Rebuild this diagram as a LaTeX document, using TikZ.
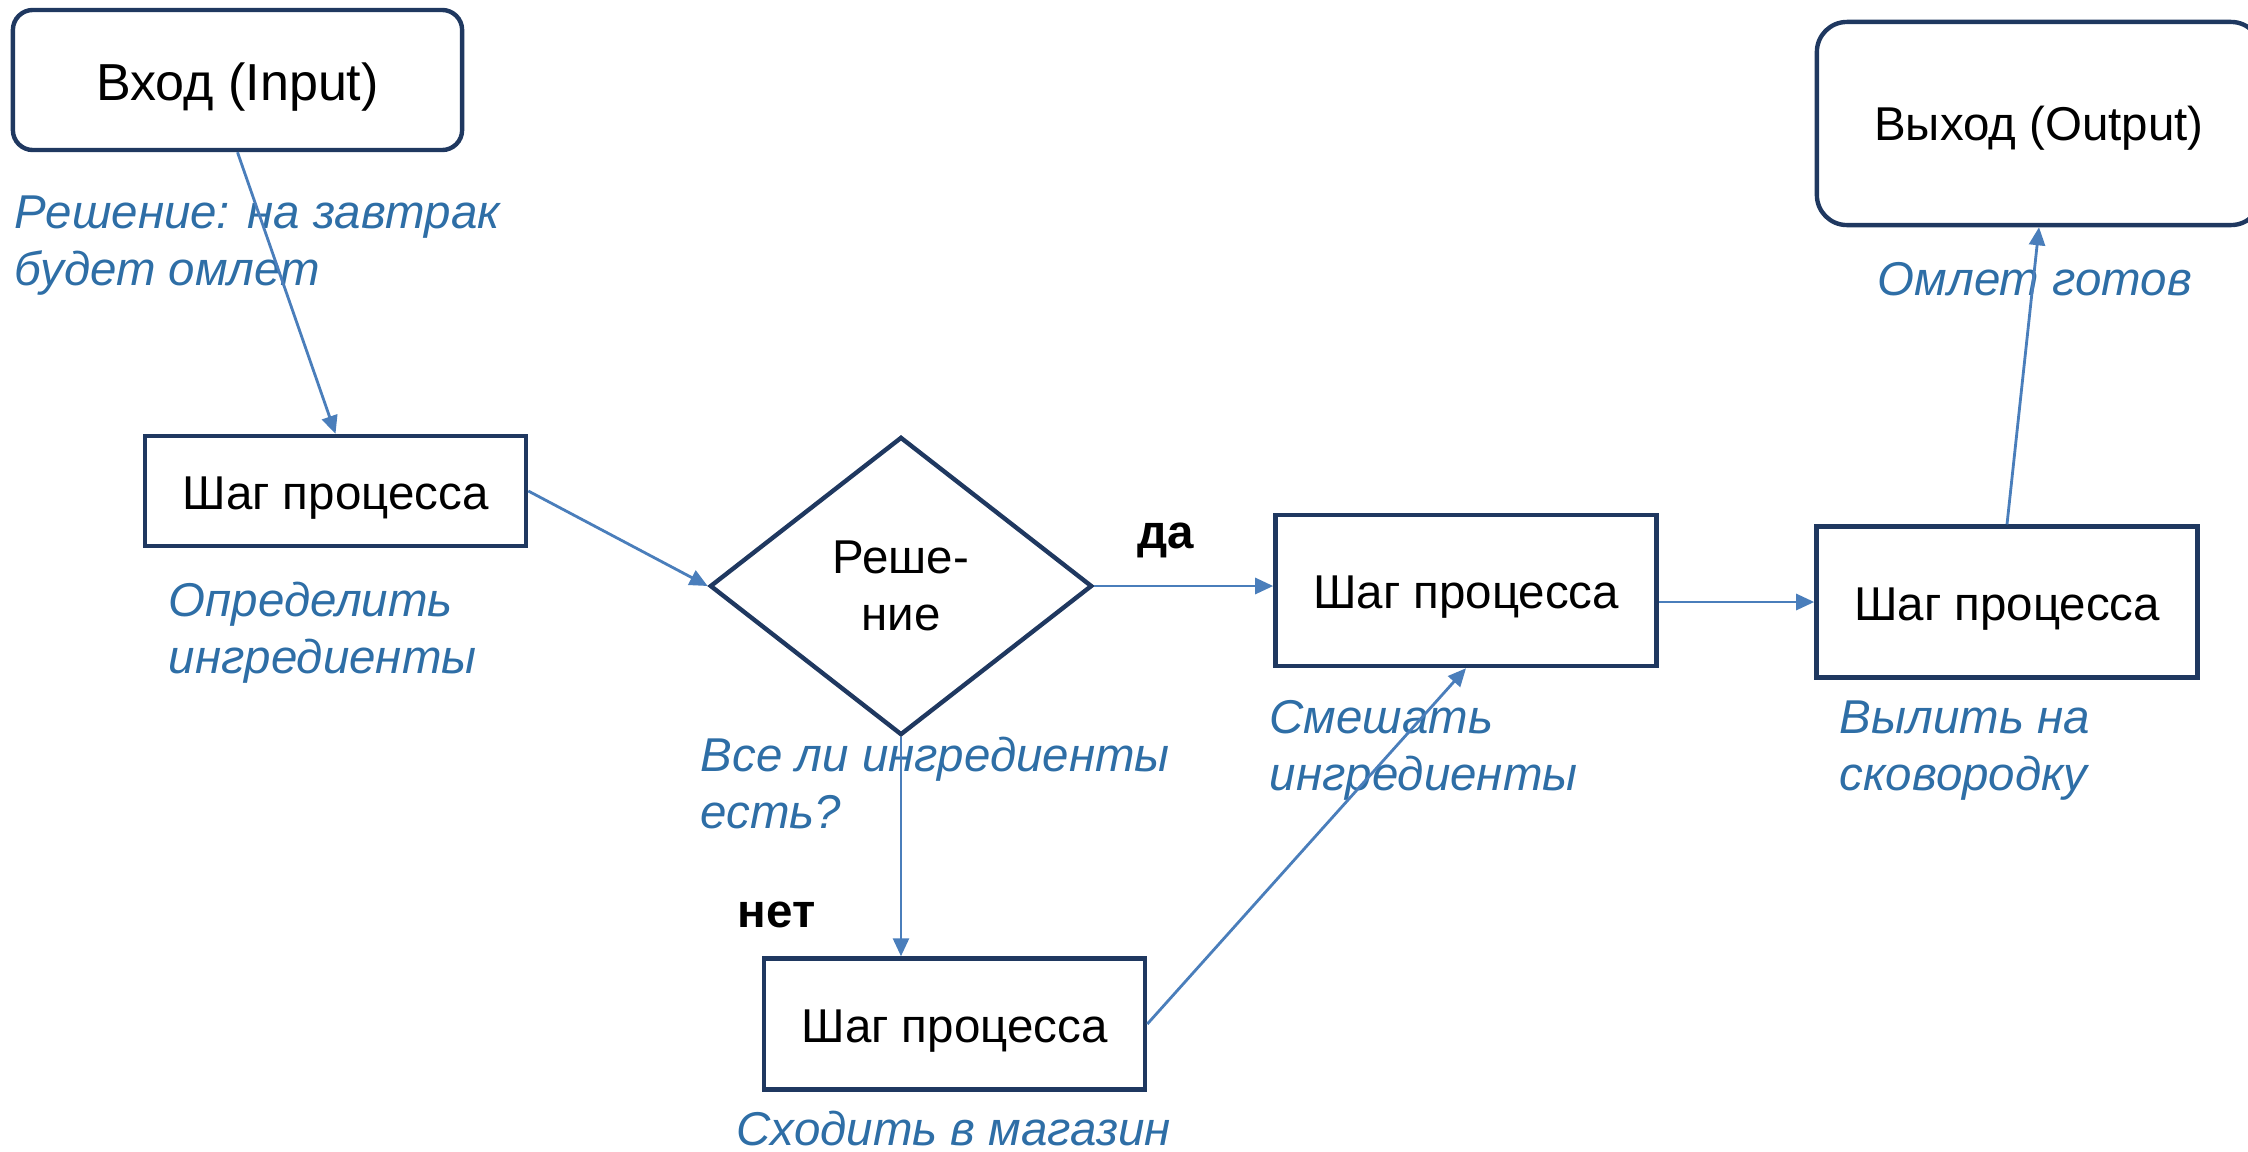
\documentclass[tikz,border=0pt]{standalone}
\usepackage{xcolor}
\usepackage{fontspec}
\setmainfont{Liberation Sans}
\usepackage{tikz}
\usetikzlibrary{shapes, arrows.meta, positioning}
\definecolor{navy}{RGB}{31,56,96}
\definecolor{wire}{RGB}{74,126,187}
\definecolor{note}{RGB}{46,110,166}

\begin{document}
\begin{tikzpicture}
  [
    x=0.01cm, y=-0.01cm,
    Terminal/.style={rectangle, draw=navy, line width=1.25pt, inner sep=0pt, text depth=0pt, font=\fontsize{13.5}{16.2}\selectfont},
    Step/.style={rectangle, draw=navy, line width=1.25pt, inner sep=0pt, minimum width=3.81cm, text height=10.4pt, text depth=0pt, font=\fontsize{13.5}{16.2}\selectfont},
    Decision/.style={diamond, draw=navy, line width=1.25pt, inner sep=0pt, align=center, minimum width=3.82cm, minimum height=2.98cm, font=\fontsize{13.5}{16.2}\selectfont},
    Note/.style={anchor=base west, align=left, inner sep=0pt, text=note, font=\fontsize{13.5}{16.2}\selectfont\itshape},
    Answer/.style={anchor=base west, inner sep=0pt, font=\fontsize{13.5}{16.2}\selectfont\bfseries},
    Link/.style={draw=wire, line width=0.8pt, -{Triangle[length=0.18cm, width=0.16cm]}}
  ]
  \useasboundingbox (0, 0) rectangle (2248, 1151);

  % Nodes (x, y)
  \node[Terminal, rounded corners=0.2cm, minimum width=4.49cm, minimum height=1.40cm, text height=11.4pt, font=\fontsize{14.8}{17.8}\selectfont] (v0) at(237.5, 80) {Вход (Input)};
  \node[Step, minimum height=1.10cm] (v1) at(335.5, 491) {Шаг процесса};
  \node[Decision] (v2) at(901, 586) {Реше-\\ние};
  \node[Step, minimum height=1.51cm] (v3) at(1466, 590.5) {Шаг процесса};
  \node[Step, minimum height=1.51cm] (v4) at(2007, 602) {Шаг процесса};
  \node[Step, minimum height=1.31cm] (v5) at(954.5, 1024) {Шаг процесса};
  \node[Terminal, rounded corners=0.3cm, minimum width=4.44cm, minimum height=2.03cm, text height=9.6pt] (v6) at(2039, 123.5) {Выход (Output)};

  % Notes (base of the last line)
  \node[Note] (n0) at(14, 285) {Решение: на завтрак\\будет омлет};
  \node[Note] (n1) at(168, 673) {Определить\\ингредиенты};
  \node[Note] (n2) at(700, 828) {Все ли ингредиенты\\есть?};
  \node[Note] (n3) at(1269, 790) {Смешать\\ингредиенты};
  \node[Note] (n4) at(1839, 790) {Вылить на\\сковородку};
  \node[Note] (n5) at(736, 1145) {Сходить в магазин};
  \node[Note] (n6) at(1877, 295) {Омлет готов};
  \node[Answer] (a0) at(1137, 548) {да};
  \node[Answer] (a1) at(737, 927) {нет};

  % Lines
  % input -> first step
  \path [Link] (v0.south) -- (v1.north);
  % step -> decision
  \path [Link] (v1.east) -- (v2.west);
  % decision: yes
  \path [Link] (v2.east) -- (v2.east -| v3.west);
  % decision: no
  \path [Link] (v2.south) -- (v2.south |- v5.north);
  % shop -> mix
  \path [Link] (v5.east) -- (v3.south);
  % mix -> pour
  \path [Link] (v3.east |- v4.west) -- (v4.west);
  % pour -> output
  \path [Link] (v4.north) -- (v6.south);

\end{tikzpicture}
\end{document}
